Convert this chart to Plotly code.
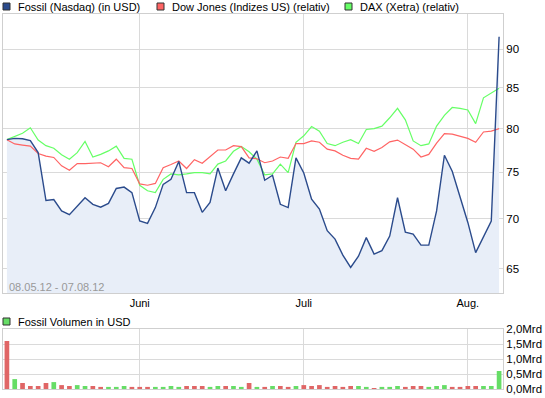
import plotly.graph_objects as go

W, H = 545, 398

dates = [
    "2012-05-08", "2012-05-09", "2012-05-10", "2012-05-11", "2012-05-14", "2012-05-15", "2012-05-16",
    "2012-05-17", "2012-05-18", "2012-05-21", "2012-05-22", "2012-05-23", "2012-05-24", "2012-05-25",
    "2012-05-29", "2012-05-30", "2012-05-31",
    "2012-06-01", "2012-06-04", "2012-06-05", "2012-06-06", "2012-06-07", "2012-06-08", "2012-06-11",
    "2012-06-12", "2012-06-13", "2012-06-14", "2012-06-15", "2012-06-18", "2012-06-19", "2012-06-20",
    "2012-06-21", "2012-06-22", "2012-06-25", "2012-06-26", "2012-06-27", "2012-06-28", "2012-06-29",
    "2012-07-02", "2012-07-03", "2012-07-05", "2012-07-06", "2012-07-09", "2012-07-10", "2012-07-11",
    "2012-07-12", "2012-07-13", "2012-07-16", "2012-07-17", "2012-07-18", "2012-07-19", "2012-07-20",
    "2012-07-23", "2012-07-24", "2012-07-25", "2012-07-26", "2012-07-27", "2012-07-30", "2012-07-31",
    "2012-08-01", "2012-08-02", "2012-08-03", "2012-08-06", "2012-08-07",
]

fossil = [78.7, 78.85, 78.8, 78.6, 77.2, 71.9, 72.0, 70.8, 70.4, 71.35, 72.2, 71.5, 71.2, 71.6, 73.2, 73.35,
          72.75, 69.75, 69.5, 71.15, 73.65, 74.2, 76.2, 72.75, 72.75, 70.65, 71.7, 75.45, 72.95, 74.8, 76.6,
          76.0, 77.4, 74.1, 74.65, 71.5, 71.15, 76.6, 74.9, 72.05, 71.0, 68.75, 67.9, 66.3, 65.1, 66.2,
          68.05, 66.4, 66.75, 68.2, 72.2, 68.6, 68.4, 67.3, 67.3, 70.8, 76.9, 75.1, 72.2, 69.6, 66.55,
          68.2, 69.75, 91.7]

dow = [78.7, 78.2, 78.07, 77.95, 77.1, 76.8, 76.65, 75.7, 75.2, 75.95, 75.95, 76.0, 76.05, 75.6, 76.45, 75.5,
       75.4, 73.7, 73.55, 73.75, 75.5, 75.85, 76.25, 75.4, 76.4, 76.0, 76.7, 77.5, 77.5, 78.0, 77.9,
       76.6, 76.5, 76.05, 76.25, 76.7, 76.55, 78.25, 78.25, 78.55, 78.4, 77.6, 77.4, 76.9, 76.55, 76.45,
       77.7, 77.35, 77.8, 78.45, 78.65, 78.1, 77.6, 76.7, 77.0, 78.3, 79.4, 79.35, 79.1, 78.85, 78.4,
       79.6, 79.7, 80.0]

dax = [78.7, 79.1, 79.45, 80.1, 78.65, 78.0, 77.7, 76.95, 76.45, 77.2, 78.5, 76.7, 77.0, 77.4, 77.95, 76.55,
       76.45, 73.55, 72.95, 72.75, 74.2, 74.8, 74.7, 74.8, 74.95, 74.95, 74.8, 75.9, 76.25, 77.35, 77.9,
       77.3, 76.45, 74.7, 74.8, 75.9, 74.95, 78.4, 79.15, 80.25, 79.7, 78.25, 78.0, 78.4, 78.7, 78.25,
       79.9, 80.0, 80.3, 81.3, 82.45, 81.05, 78.55, 78.0, 78.2, 80.3, 81.6, 82.55, 82.45, 82.25, 80.6,
       83.75, 84.35, 84.95]

volume_mrd = [1.60, 0.33, 0.20, 0.10, 0.10, 0.20, 0.23, 0.13, 0.10, 0.13, 0.10, 0.10, 0.07, 0.07, 0.07, 0.10,
              0.07, 0.07, 0.07, 0.07, 0.07, 0.10, 0.07, 0.10, 0.10, 0.10, 0.07, 0.10, 0.10, 0.10, 0.07,
              0.20, 0.07, 0.07, 0.10, 0.10, 0.07, 0.10, 0.13, 0.10, 0.13, 0.07, 0.10, 0.07, 0.10, 0.10,
              0.07, 0.03, 0.07, 0.07, 0.10, 0.07, 0.10, 0.10, 0.07, 0.10, 0.13, 0.07, 0.07, 0.10, 0.10,
              0.10, 0.10, 0.60]

# 1 = up day (green), 0 = down day (red)
volume_up = [0, 1, 0, 0, 0, 0, 1, 0, 0, 1, 1, 0, 0, 1, 1, 1,
             0, 0, 0, 1, 1, 1, 1, 0, 0, 0, 1, 1, 0, 1, 1,
             0, 1, 0, 1, 0, 0, 1, 0, 0, 0, 0, 0, 0, 0, 1,
             1, 0, 1, 1, 1, 0, 0, 0, 1, 1, 1, 0, 0, 0, 0,
             1, 1, 1]

month_ticks = ["2012-06-01", "2012-07-02", "2012-08-01"]
month_labels = ["Juni", "Juli", "Aug."]

price_ticks = [65, 70, 75, 80, 85, 90]
vol_ticks = [0.0, 0.5, 1.0, 1.5, 2.0]
vol_ticklabels = ["0,0Mrd", "0,5Mrd", "1,0Mrd", "1,5Mrd", "2,0Mrd"]

legend_names = ["Fossil (Nasdaq) (in USD)", "Dow Jones (Indizes US) (relativ)", "DAX (Xetra) (relativ)"]
volume_legend = "Fossil Volumen in USD"
period_label = "08.05.12 - 07.08.12"

C_BLUE = "#2b4b8c"
C_RED = "#ff6464"
C_GREEN = "#66ff66"
C_FILL = "#e8eef8"
C_BAR_RED = "#e06666"
C_BAR_GREEN = "#66dd66"
GRID = "#dadada"
FONT = "Liberation Sans, Arial, sans-serif"

def px_x(p):
    return p / W

def px_y(p):
    return 1 - p / H

fig = go.Figure()

# fill under Fossil
fig.add_trace(go.Scatter(x=dates, y=fossil, mode="lines", line=dict(width=0, color=C_FILL),
                         fill="tozeroy", fillcolor=C_FILL, hoverinfo="skip", xaxis="x", yaxis="y"))
fig.add_trace(go.Scatter(x=dates, y=dax, mode="lines", line=dict(color=C_GREEN, width=1.2),
                         xaxis="x", yaxis="y"))
fig.add_trace(go.Scatter(x=dates, y=dow, mode="lines", line=dict(color=C_RED, width=1.2),
                         xaxis="x", yaxis="y"))
fig.add_trace(go.Scatter(x=dates, y=fossil, mode="lines", line=dict(color=C_BLUE, width=1.4),
                         xaxis="x", yaxis="y"))

bar_colors = [C_BAR_GREEN if u else C_BAR_RED for u in volume_up]
fig.add_trace(go.Bar(x=dates, y=volume_mrd, marker=dict(color=bar_colors, line=dict(width=0)),
                     xaxis="x2", yaxis="y2"))

xdom = [px_x(3), px_x(503)]
common_x = dict(type="category", range=[-0.5, len(dates) - 0.5], domain=xdom,
                tickmode="array", tickvals=month_ticks, showgrid=True, gridcolor=GRID, gridwidth=1,
                showline=True, linecolor="#cfcfcf", linewidth=1, mirror=True, ticks="",
                zeroline=False, fixedrange=True)

fig.update_layout(
    width=W, height=H,
    margin=dict(l=0, r=0, t=0, b=0),
    paper_bgcolor="white", plot_bgcolor="white",
    showlegend=False,
    bargap=0.4,
    font=dict(family=FONT, size=11, color="#000000"),
    xaxis=dict(common_x, ticktext=month_labels, showticklabels=True, anchor="y",
               tickfont=dict(size=11, color="#000")),
    yaxis=dict(type="log", domain=[px_y(293), px_y(14)],
               range=[1.797117, 1.97700], side="right", tickmode="array", tickvals=price_ticks,
               ticktext=[str(v) for v in price_ticks], showgrid=True, gridcolor=GRID,
               showline=True, linecolor="#cfcfcf", mirror=True, ticks="", zeroline=False,
               anchor="x", tickfont=dict(size=11.5, color="#000"), automargin=False),
    xaxis2=dict(common_x, showticklabels=False, anchor="y2"),
    yaxis2=dict(domain=[px_y(389), px_y(329)], range=[0, 2.0], side="right", tickmode="array",
                tickvals=vol_ticks, ticktext=vol_ticklabels, showgrid=True, gridcolor=GRID,
                showline=True, linecolor="#cfcfcf", mirror=True, ticks="", zeroline=False,
                anchor="x2", tickfont=dict(size=11.5, color="#000"), automargin=False),
)

# legend (top)
leg_items = [(3, C_BLUE), (157, C_RED), (345, C_GREEN)]
for (lx, col), name in zip(leg_items, legend_names):
    fig.add_shape(type="rect", xref="paper", yref="paper",
                  x0=px_x(lx), x1=px_x(lx + 7), y0=px_y(10), y1=px_y(3),
                  fillcolor=col, line=dict(color="#333333", width=1))
    fig.add_annotation(text=name, xref="paper", yref="paper", x=px_x(lx + 12.5), y=px_y(6.5),
                       xanchor="left", yanchor="middle", showarrow=False,
                       font=dict(size=11, color="#000"))

# volume legend
fig.add_shape(type="rect", xref="paper", yref="paper",
              x0=px_x(3), x1=px_x(10), y0=px_y(325), y1=px_y(318),
              fillcolor=C_BAR_GREEN, line=dict(color="#333333", width=1))
fig.add_annotation(text=volume_legend, xref="paper", yref="paper", x=px_x(15.5), y=px_y(321.5),
                   xanchor="left", yanchor="middle", showarrow=False, font=dict(size=11, color="#000"))

# period label inside main plot
fig.add_annotation(text=period_label, xref="paper", yref="paper", x=px_x(6.5), y=px_y(286.5),
                   xanchor="left", yanchor="middle", showarrow=False, font=dict(size=11, color="#999999"))

fig.write_html("out.html", config={"displayModeBar": False},
               post_script="document.body.style.margin='0';")
